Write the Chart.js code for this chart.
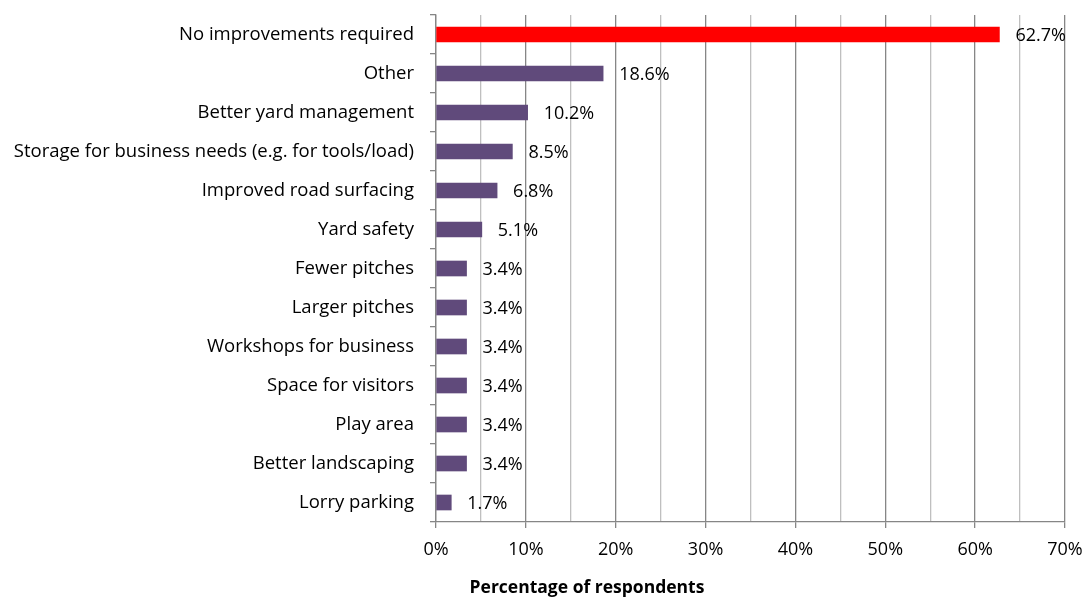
<!DOCTYPE html>
<html><head><meta charset="utf-8">
<script src="https://cdn.jsdelivr.net/npm/chart.js@4"></script>
<style>html,body{margin:0;padding:0;background:#fff}#wrap{width:1084px;height:599px;position:relative}</style>
</head><body><div id="wrap"><canvas id="c" width="1084" height="599"></canvas></div>
<script>
const categories = ["No improvements required","Other","Better yard management","Storage for business needs (e.g. for tools/load)","Improved road surfacing","Yard safety","Fewer pitches","Larger pitches","Workshops for business","Space for visitors","Play area","Better landscaping","Lorry parking"];
const values = [62.7,18.6,10.2,8.5,6.8,5.1,3.4,3.4,3.4,3.4,3.4,3.4,1.7];
const barColors = ["#FF0000","#604A7B","#604A7B","#604A7B","#604A7B","#604A7B","#604A7B","#604A7B","#604A7B","#604A7B","#604A7B","#604A7B","#604A7B"];
const axisTitle = "Percentage of respondents";
const FONT = "'Open Sans'";

const labelPlugin = {
  id:'lbl',
  afterDatasetsDraw(chart){
    const ctx = chart.ctx; const meta = chart.getDatasetMeta(0);
    ctx.save(); ctx.font = "18px "+FONT; ctx.fillStyle="#000"; ctx.textBaseline="middle"; ctx.textAlign="left";
    meta.data.forEach((b,i)=>{ ctx.fillText(values[i].toFixed(1)+"%", b.x+16, b.y+1); });
    ctx.font = "bold 17.5px "+FONT; ctx.textAlign="center";
    ctx.fillText(axisTitle, 587, 588);
    ctx.restore();
  }
};

new Chart(document.getElementById('c'), {
  type:'bar',
  data:{labels:categories, datasets:[{data:values, backgroundColor:barColors, barThickness:15}]},
  options:{
    indexAxis:'y', responsive:false, animation:false,
    layout:{padding:{top:15,right:19,left:0,bottom:0}},
    plugins:{legend:{display:false}, tooltip:{enabled:false}},
    scales:{
      x:{min:0,max:70,
        ticks:{stepSize:5, autoSkip:false, maxRotation:0, padding:11, color:"#000", font:{family:"Open Sans",size:18},
          callback:(v)=> v%10===0 ? v+"%" : ""},
        grid:{color:(c)=> (c.tick && c.tick.value%10===0) ? "#868686" : "#BFBFBF", lineWidth:1.3, tickLength:6,
          tickColor:(c)=> (c.tick && c.tick.value%10===0) ? "#868686" : "rgba(0,0,0,0)"},
        border:{color:"#868686", width:1.3},
        afterFit:(s)=>{ s.height = 77; s.paddingLeft = 0; s.paddingRight = 0; }
      },
      y:{
        ticks:{color:"#000", padding:16, font:{family:"Open Sans",size:18.5}, autoSkip:false},
        grid:{offset:true, drawOnChartArea:false, tickLength:6, color:"#868686", lineWidth:1.3},
        border:{color:"#868686", width:1.3},
        afterFit:(s)=>{ s.width = 436; s.paddingTop = 0; s.paddingBottom = 0; }
      }
    }
  },
  plugins:[labelPlugin]
});
</script></body></html>
